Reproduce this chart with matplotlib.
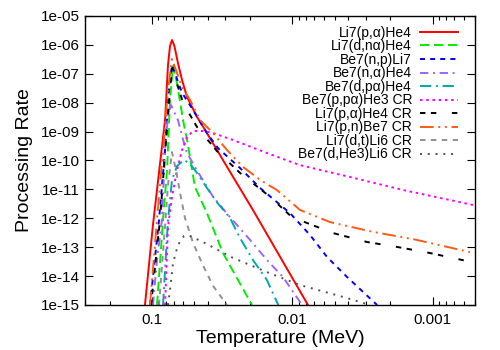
import matplotlib
matplotlib.use("Agg")
import matplotlib.pyplot as plt
from matplotlib.ticker import FuncFormatter, NullFormatter, LogLocator, FixedLocator
import numpy as np

plt.rcParams['font.family'] = ['Liberation Sans', 'DejaVu Sans']

# Temperature (MeV) and log10(processing rate) for each reaction
li7pa_T = [0.1122, 0.0984, 0.0807, 0.0769, 0.0744, 0.0720, 0.0692, 0.0653, 0.0611, 0.0563, 0.0478, 0.0419, 0.0292, 0.0191, 0.00774, 0.0054]
li7pa_L = [-15.0, -12.23, -8.60, -6.70, -6.04, -5.83, -6.04, -6.63, -7.21, -7.80, -8.49, -8.94, -10.22, -11.71, -15.0, -16.3]

li7dna_T = [0.0921, 0.0834, 0.0781, 0.0744, 0.0708, 0.0663, 0.0601, 0.0562, 0.0494, 0.0406, 0.0312, 0.0194]
li7dna_L = [-15.0, -12.06, -10.33, -7.9, -6.73, -7.32, -8.60, -9.29, -10.92, -11.82, -13.20, -15.0]

be7np_T = [0.1033, 0.0891, 0.0807, 0.0757, 0.0720, 0.0611, 0.0510, 0.0406, 0.0339, 0.0236, 0.0170, 0.0104, 0.00748, 0.00566, 0.00408, 0.00249]
be7np_L = [-15.0, -12.06, -9.64, -7.56, -6.70, -7.66, -8.25, -9.05, -9.57, -10.26, -10.95, -11.82, -12.58, -13.34, -14.03, -15.0]

be7na_T = [0.0984, 0.0921, 0.0849, 0.0807, 0.0769, 0.0732, 0.0653, 0.0600, 0.0563, 0.0470, 0.0367, 0.0278, 0.0200, 0.0152, 0.01167, 0.00853]
be7na_L = [-15.0, -13.44, -12.06, -9.64, -8.43, -8.08, -8.60, -9.29, -9.74, -10.40, -11.26, -11.96, -12.75, -13.44, -14.03, -15.0]

be7dpa_T = [0.0834, 0.0807, 0.0769, 0.0744, 0.0720, 0.0663, 0.0591, 0.0535, 0.0478, 0.0406, 0.0345, 0.0278, 0.0236, 0.0191, 0.0152, 0.0126]
be7dpa_L = [-15.0, -13.79, -12.06, -11.37, -10.67, -10.19, -9.98, -10.12, -10.43, -10.95, -11.44, -11.99, -12.68, -13.44, -14.13, -15.0]

be7ppa_T = [0.0807, 0.0769, 0.0720, 0.0663, 0.0611, 0.0563, 0.0510, 0.0434, 0.0367, 0.0265, 0.0152, 0.00883, 0.00389, 0.00163, 0.000516]
be7ppa_L = [-15.0, -12.30, -11.26, -10.33, -9.64, -9.19, -8.98, -8.98, -9.05, -9.29, -9.74, -10.16, -10.57, -11.02, -11.54]

li7paCR_T = [0.1016, 0.0877, 0.0794, 0.0720, 0.0600, 0.0478, 0.0345, 0.0236, 0.0144, 0.01007, 0.00514, 0.00294, 0.0018, 0.00105, 0.00057]
li7paCR_L = [-15.0, -12.06, -9.29, -6.80, -8.01, -8.84, -9.67, -10.43, -11.26, -11.96, -12.51, -12.82, -12.99, -13.20, -13.48]

li7pnCR_T = [0.1033, 0.0921, 0.0834, 0.0769, 0.0720, 0.0611, 0.0535, 0.0455, 0.0367, 0.0292, 0.0225, 0.0170, 0.0129, 0.00883, 0.0054, 0.00267, 0.00138, 0.000543]
li7pnCR_L = [-15.0, -12.06, -9.64, -7.56, -6.49, -7.46, -7.91, -8.60, -9.05, -9.64, -10.22, -10.67, -11.02, -11.71, -12.13, -12.47, -12.72, -13.17]

li7dtCR_T = [0.0891, 0.0821, 0.0769, 0.0720, 0.0675, 0.0631, 0.0582, 0.0510, 0.0434, 0.0367, 0.0292]
li7dtCR_L = [-15.0, -12.75, -10.85, -9.71, -10.33, -11.12, -11.99, -12.85, -13.62, -14.34, -15.0]

be7dhCR_T = [0.0769, 0.0744, 0.0708, 0.0653, 0.0591, 0.0553, 0.0434, 0.0265, 0.0152, 0.00883, 0.00436, 0.0028]
be7dhCR_L = [-15.0, -14.48, -13.55, -12.92, -12.61, -12.58, -12.82, -13.37, -13.86, -14.31, -14.72, -15.0]

labels = ["Li7(p,α)He4", "Li7(d,nα)He4", "Be7(n,p)Li7", "Be7(n,α)He4", "Be7(d,pα)He4",
          "Be7(p,pα)He3 CR", "Li7(p,α)He4 CR", "Li7(p,n)Be7 CR", "Li7(d,t)Li6 CR", "Be7(d,He3)Li6 CR"]
xs = [li7pa_T, li7dna_T, be7np_T, be7na_T, be7dpa_T, be7ppa_T, li7paCR_T, li7pnCR_T, li7dtCR_T, be7dhCR_T]
ls = [li7pa_L, li7dna_L, be7np_L, be7na_L, be7dpa_L, be7ppa_L, li7paCR_L, li7pnCR_L, li7dtCR_L, be7dhCR_L]

colors = ["#ff0000", "#00ee00", "#0000ff", "#9966ff", "#00a8a8",
          "#ff00ff", "#000000", "#ff5a14", "#909090", "#505050"]
dashes = [None, (4.8, 2.4), (2.6, 2.6), (4.3, 2.4, 1, 2.4), (5.8, 2.4, 1, 2.4),
          (1.3, 1.9), (2.8, 2.8, 2.8, 8), (7, 2.4, 1, 2.4, 1, 2.4), (2.8, 2.8), (1.0, 3.0)]

fig = plt.figure(figsize=(5, 3.5), dpi=100)
ax = fig.add_axes([0.17, 0.1286, 0.78, 0.8257])

for T, L, lab, c, d in zip(xs, ls, labels, colors, dashes):
    kw = dict(color=c, lw=1.4, label=lab)
    if d is not None:
        kw['dashes'] = d
    ax.plot(T, 10.0 ** np.array(L), **kw)

ax.set_xscale('log')
ax.set_yscale('log')
ax.set_xlim(0.3, 0.0005)
ax.set_ylim(1e-15, 1e-5)

ax.xaxis.set_major_locator(FixedLocator([0.1, 0.01, 0.001]))
ax.xaxis.set_major_formatter(FuncFormatter(lambda v, p: f"{v:g}"))
ax.xaxis.set_minor_locator(LogLocator(base=10, subs=np.arange(2, 10), numticks=20))
ax.xaxis.set_minor_formatter(NullFormatter())
ax.yaxis.set_major_locator(FixedLocator([10.0 ** k for k in range(-15, -4)]))
ax.yaxis.set_major_formatter(FuncFormatter(lambda v, p: f"{v:.0e}"))
ax.yaxis.set_minor_locator(FixedLocator([]))

ax.tick_params(which='both', direction='in', top=True, right=True, labelsize=11)
ax.tick_params(which='major', length=6, width=0.8)
ax.tick_params(which='minor', length=3, width=0.8)
ax.tick_params(axis='x', pad=6)
for s in ax.spines.values():
    s.set_linewidth(1.0)

ax.set_xlabel("Temperature (MeV)", fontsize=14, labelpad=2)
ax.set_ylabel("Processing Rate", fontsize=14, labelpad=6)

leg = ax.legend(loc='upper right', bbox_to_anchor=(0.956, 0.966), frameon=False,
                markerfirst=False, fontsize=10, labelspacing=-0.035, handlelength=2.7,
                handletextpad=0.6, borderaxespad=0.0, borderpad=0.0, alignment='right')

fig.savefig("out.png", dpi=100)
